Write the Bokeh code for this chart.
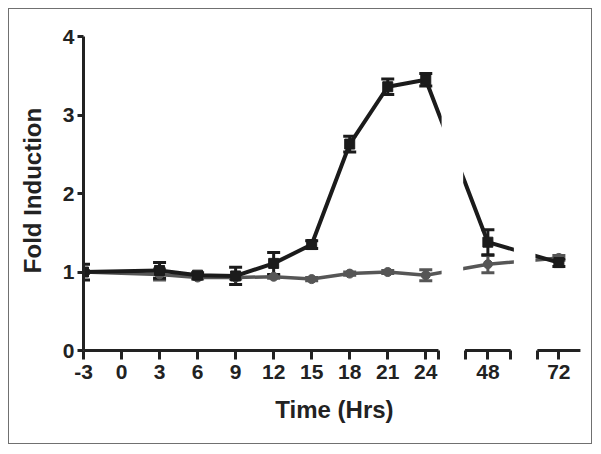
from bokeh.plotting import figure
from bokeh.models import ColumnDataSource, Whisker, TeeHead, FixedTicker, Range1d
from bokeh.embed import file_html
from bokeh.resources import INLINE

# ---- data ----
hours = [-3, 3, 6, 9, 12, 15, 18, 21, 24, 48, 72]
treated = [1.00, 1.02, 0.96, 0.95, 1.11, 1.35, 2.63, 3.36, 3.45, 1.38, 1.12]
treated_err = [0.10, 0.10, 0.03, 0.11, 0.14, 0.05, 0.10, 0.10, 0.08, 0.16, 0.05]
control = [1.00, 0.97, 0.93, 0.93, 0.94, 0.91, 0.98, 1.00, 0.96, 1.10, 1.18]
control_err = [0.02, 0.07, 0.02, 0.02, 0.02, 0.02, 0.02, 0.02, 0.07, 0.11, 0.03]

x_ticks = [-3, 0, 3, 6, 9, 12, 15, 18, 21, 24, 48, 72]
x_tick_labels = ["-3", "0", "3", "6", "9", "12", "15", "18", "21", "24", "48", "72"]
y_ticks = [0, 1, 2, 3, 4]

# broken x axis: segments (in hours)
seg_lo = [-3, 46.2, 70.3]
seg_hi = [25, 49.8, 73.7]
GAP = 2.1

# ---- mapping hours -> continuous axis coordinate ----
u0 = [seg_lo[0]]
for i in range(1, len(seg_lo)):
    u0.append(u0[-1] + (seg_hi[i - 1] - seg_lo[i - 1]) + GAP)


def to_u(x):
    for i, (lo, hi) in enumerate(zip(seg_lo, seg_hi)):
        if lo - 1e-9 <= x <= hi + 1e-9:
            return round(u0[i] + (x - lo), 4)
    raise ValueError(x)


u = [to_u(h) for h in hours]
seg_u_lo = [to_u(v) for v in seg_lo]
seg_u_hi = [to_u(v) for v in seg_hi]
end_ticks = [seg_u_hi[0], seg_u_lo[1], seg_u_hi[1], seg_u_lo[2]]
tick_u = [to_u(t) for t in x_ticks]

INK = "#222222"
BLACK = "#1b1b1b"
GRAY = "#565656"
FONT = "Liberation Sans"

p = figure(width=584, height=436, output_backend="svg", toolbar_location=None,
           x_range=Range1d(-3, 36.6), y_range=Range1d(-0.025, 4.102),
           min_border_left=74, min_border_right=8, min_border_top=19, min_border_bottom=93)
p.styles = {"margin-left": "8px", "margin-top": "8px", "border": "1px solid #707070"}
p.outline_line_color = None
p.xgrid.visible = False
p.ygrid.visible = False
p.background_fill_color = "white"
p.border_fill_color = "white"

# control series (gray circles)
p.line(u, control, line_color=GRAY, line_width=3.5)
p.scatter(u, control, marker="circle", size=9, fill_color=GRAY, line_color=GRAY)
# treated series (black squares)
p.line(u, treated, line_color=BLACK, line_width=4)
p.scatter(u, treated, marker="square", size=10, fill_color=BLACK, line_color=BLACK)

# white masks in the axis breaks
mask_left = [seg_u_hi[i] + 0.25 for i in range(len(seg_lo) - 1)]
mask_right = [seg_u_lo[i + 1] - 0.15 for i in range(len(seg_lo) - 1)]
p.quad(left=mask_left, right=mask_right, bottom=-1, top=5,
       fill_color="white", line_color=None)

# error bars
for vals, errs, col in [(control, control_err, GRAY), (treated, treated_err, BLACK)]:
    src = ColumnDataSource(dict(base=u,
                                upper=[v + e for v, e in zip(vals, errs)],
                                lower=[v - e for v, e in zip(vals, errs)]))
    w = Whisker(source=src, base="base", upper="upper", lower="lower",
                line_color=col, line_width=3,
                upper_head=TeeHead(size=13, line_width=3, line_color=col),
                lower_head=TeeHead(size=13, line_width=3, line_color=col))
    p.add_layout(w)

# broken x-axis line segments
p.segment(x0=seg_u_lo, y0=[0] * len(seg_lo), x1=seg_u_hi, y1=[0] * len(seg_lo),
          line_color=INK, line_width=3)

# x axis
xa = p.xaxis[0]
xa.ticker = FixedTicker(ticks=tick_u + end_ticks)
overrides = {t: lab for t, lab in zip(tick_u, x_tick_labels)}
for t in end_ticks:
    overrides[t] = ""
xa.major_label_overrides = overrides
xa.axis_line_color = None
xa.major_tick_line_color = INK
xa.major_tick_line_width = 3
xa.major_tick_out = 7
xa.major_tick_in = 2
xa.minor_tick_line_color = None
xa.major_label_standoff = 5
xa.major_label_text_font = FONT
xa.major_label_text_font_style = "bold"
xa.major_label_text_font_size = "21px"
xa.major_label_text_color = INK
xa.axis_label = "Time (Hrs)"
xa.axis_label_text_font = FONT
xa.axis_label_text_font_style = "bold"
xa.axis_label_text_font_size = "24px"
xa.axis_label_text_color = INK
xa.axis_label_standoff = 14

# y axis
ya = p.yaxis[0]
ya.ticker = FixedTicker(ticks=y_ticks)
ya.bounds = (0, 4)
ya.axis_line_color = INK
ya.axis_line_width = 3
ya.major_tick_line_color = INK
ya.major_tick_line_width = 3
ya.major_tick_out = 6
ya.major_tick_in = 0
ya.minor_tick_line_color = None
ya.major_label_standoff = 3
ya.major_label_text_font = FONT
ya.major_label_text_font_style = "bold"
ya.major_label_text_font_size = "21px"
ya.major_label_text_color = INK
ya.axis_label = "Fold Induction"
ya.axis_label_text_font = FONT
ya.axis_label_text_font_style = "bold"
ya.axis_label_text_font_size = "24px"
ya.axis_label_text_color = INK
ya.axis_label_standoff = 14

open("out.html", "w").write(file_html(p, INLINE))
